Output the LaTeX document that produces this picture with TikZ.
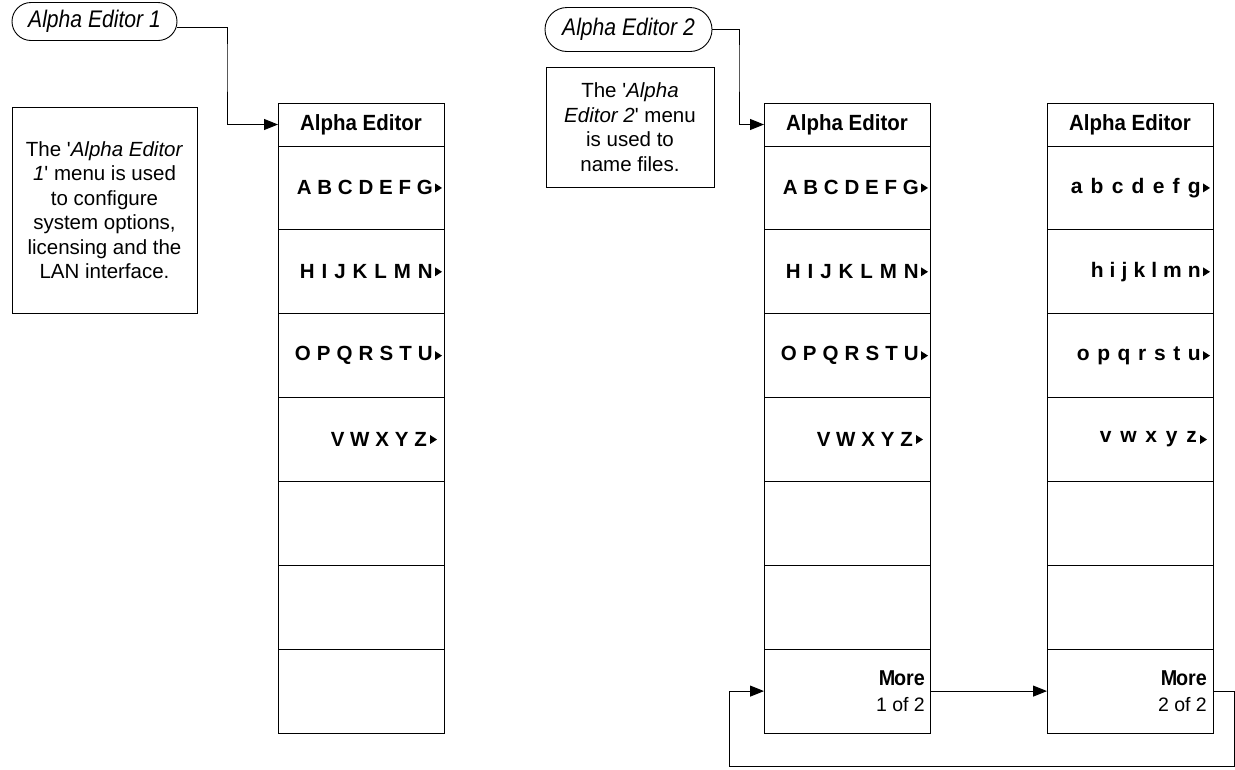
\documentclass[tikz,border=0pt]{standalone}
\usepackage{fontspec}
\usepackage{graphicx}
\setmainfont{Liberation Sans}
\usetikzlibrary{shapes.misc,arrows.meta}
\newcommand{\cnd}[2]{\scalebox{#1}[1]{#2}}
\begin{document}
\begin{tikzpicture}[x=1pt,y=-1pt,
  cell/.style={draw,line width=0.9pt,minimum width=166pt,minimum height=83.86pt,inner sep=0pt,outer sep=0pt,anchor=north west},
  hdr/.style={cell,minimum height=43pt,font=\fontsize{22}{24}\selectfont\bfseries},
  itemtxt/.style={anchor=east,inner sep=0pt,font=\fontsize{20.5}{22}\selectfont\bfseries},
  lowtxt/.style={itemtxt,font=\fontsize{21}{22}\selectfont\bfseries},
  capsule/.style={draw,line width=0.9pt,rounded rectangle,inner sep=0pt,font=\fontsize{24}{26}\selectfont\itshape},
  note/.style={draw,line width=0.9pt,align=center,inner sep=0pt,font=\fontsize{20.5}{24.5}\selectfont},
  conn/.style={line width=0.9pt},
  arr/.style={conn,-{Triangle[length=14pt,width=11pt]}},
  moretxt/.style={anchor=east,align=right,inner sep=0pt,font=\fontsize{19.5}{26}\selectfont}
]
\useasboundingbox (0,0) rectangle (1235,769);

% entry capsules
\node[capsule,minimum width=165pt,minimum height=38pt] (cap1) at (94.5,21.5) {\cnd{0.88}{Alpha Editor 1}};
\node[capsule,minimum width=167pt,minimum height=44pt] (cap2) at (628.5,29.5) {\cnd{0.88}{Alpha Editor 2}};

% notes
\node[note,minimum width=185pt,minimum height=206pt] (n1) at (104.5,210)
  {The \textquotesingle\textit{Alpha Editor}\\\textit{1}\textquotesingle{} menu is used\\to configure\\system options,\\licensing and the\\LAN interface.};
\node[note,minimum width=168pt,minimum height=120pt] (n2) at (630,127)
  {The \textquotesingle\textit{Alpha}\\\textit{Editor 2}\textquotesingle{} menu\\is used to\\name files.};

% menus
\node[hdr] (m1h) at (278,103) {\cnd{0.93}{Alpha Editor}};
\node[hdr] (m2h) at (764,103) {\cnd{0.93}{Alpha Editor}};
\node[hdr] (m3h) at (1047,103) {\cnd{0.93}{Alpha Editor}};
\foreach \i in {1,...,7}{
  \node[cell] (m1c\i) at (278,{146+(\i-1)*83.86}) {};
  \node[cell] (m2c\i) at (764,{146+(\i-1)*83.86}) {};
  \node[cell] (m3c\i) at (1047,{146+(\i-1)*83.86}) {};
}

% item labels menu 1
\node[itemtxt] (m1t1) at ([xshift=-11pt]m1c1.east) {\makebox[136pt][s]{A B C D E F G}};
\node[itemtxt] (m1t2) at ([xshift=-11pt]m1c2.east) {\makebox[133pt][s]{H I J K L M N}};
\node[itemtxt] (m1t3) at ([xshift=-11pt]m1c3.east) {\makebox[138pt][s]{O P Q R S T U}};
\node[itemtxt] (m1t4) at ([xshift=-17pt]m1c4.east) {\makebox[96pt][s]{V W X Y Z}};
% menu 2
\node[itemtxt] (m2t1) at ([xshift=-11pt]m2c1.east) {\makebox[136pt][s]{A B C D E F G}};
\node[itemtxt] (m2t2) at ([xshift=-11pt]m2c2.east) {\makebox[133pt][s]{H I J K L M N}};
\node[itemtxt] (m2t3) at ([xshift=-11pt]m2c3.east) {\makebox[138pt][s]{O P Q R S T U}};
\node[itemtxt] (m2t4) at ([xshift=-17pt]m2c4.east) {\makebox[96pt][s]{V W X Y Z}};
% menu 3
\node[lowtxt] (m3t1) at ([xshift=-12pt]m3c1.east) {\makebox[130pt][s]{a b c d e f g}};
\node[lowtxt] (m3t2) at ([xshift=-12pt]m3c2.east) {\makebox[110pt][s]{h i j k l m n}};
\node[lowtxt] (m3t3) at ([xshift=-12pt]m3c3.east) {\makebox[124pt][s]{o p q r s t u}};
\node[lowtxt] (m3t4) at ([xshift=-16pt]m3c4.east) {\makebox[97pt][s]{v w x y z}};

% submenu triangles
\foreach \m/\s in {m1c1/2,m1c2/2,m1c3/2,m1c4/7,m2c1/2,m2c2/2,m2c3/2,m2c4/7,m3c1/3,m3c2/3,m3c3/3,m3c4/6}{
  \fill ([xshift=-\s pt]\m.east) -- ++(-7,-4.5) -- ++(0,9) -- cycle;
}

% More keys
\node[moretxt] (m2more) at ([xshift=-5pt]m2c7.east) {{\fontsize{21.5}{26}\selectfont\textbf{\cnd{0.92}{M\kern-1.5pt ore}}}\\1 of 2};
\node[moretxt] (m3more) at ([xshift=-6pt]m3c7.east) {{\fontsize{21.5}{26}\selectfont\textbf{\cnd{0.92}{M\kern-1.5pt ore}}}\\2 of 2};

% connectors
\coordinate (k1) at (227,60);
\coordinate (k2) at (739,60);
\coordinate (lr) at (1234,766);
\coordinate (ll) at (729,766);
\draw[arr] ([yshift=-6pt]cap1.east) -| (k1) |- (m1h.west);
\draw[arr] (cap2.east) -| (k2) |- (m2h.west);
\draw[arr] (m2c7.east) -- (m3c7.west);
\draw[arr] (m3c7.east) -| (lr) -- (ll) |- (m2c7.west);
\end{tikzpicture}
\end{document}
